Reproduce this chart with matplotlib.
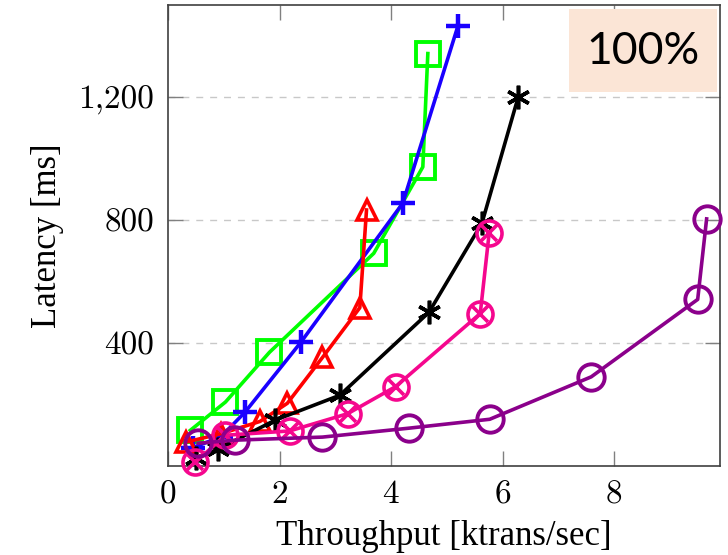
import matplotlib
matplotlib.use("Agg")
import matplotlib.pyplot as plt
from matplotlib.ticker import FuncFormatter
from matplotlib.patches import Rectangle

plt.rcParams['font.family'] = ['cmr10', 'DejaVu Serif']
plt.rcParams['axes.formatter.use_mathtext'] = True

# throughput [ktrans/sec], latency [ms]
green_x = [0.40, 1.03, 1.82, 3.69, 4.57, 4.66]
green_y = [116, 208, 370, 692, 973, 1342]

blue_x = [0.45, 0.95, 1.38, 2.38, 4.21, 5.20]
blue_y = [60, 95, 175, 402, 855, 1432]

red_x = [0.33, 0.95, 1.65, 2.14, 2.77, 3.44, 3.56]
red_y = [78, 105, 145, 204, 353, 515, 833]

black_x = [0.50, 0.90, 1.92, 3.08, 4.68, 5.63, 6.28]
black_y = [25, 55, 149, 230, 500, 790, 1200]

pink_x = [0.49, 1.03, 2.18, 3.22, 4.08, 5.60, 5.76]
pink_y = [12, 100, 114, 170, 258, 496, 758]

purple_x = [0.54, 1.20, 2.77, 4.32, 5.77, 7.59, 9.50, 9.66]
purple_y = [74, 84, 94, 123, 152, 290, 542, 804]

fig = plt.figure(figsize=(7.28, 5.55), dpi=100)
ax = fig.add_axes([0.2308, 0.1604, 0.7582, 0.8306])

lw = 2.6
ax.plot(green_x, green_y, color='#00FF00', lw=lw, marker='s', ms=17,
        mfc='none', mew=2.8, clip_on=False, zorder=3)
ax.plot(blue_x, blue_y, color='#1A00FF', lw=lw, marker='+', ms=17,
        mew=3.2, clip_on=False, zorder=3)
ax.plot(red_x, red_y, color='#FF0000', lw=lw, marker='^', ms=15,
        mfc='none', mew=2.6, clip_on=False, zorder=3)
ax.plot(black_x, black_y, color='black', lw=lw, marker=(6, 2, 0), ms=17,
        mew=2.6, clip_on=False, zorder=3)
ax.plot(pink_x, pink_y, color='#F5078E', lw=lw, marker='o', ms=18,
        mfc='none', mew=2.6, clip_on=False, zorder=3)
ax.plot(pink_x, pink_y, color='#F5078E', lw=0, marker='x', ms=11,
        mew=2.6, clip_on=False, zorder=3)
ax.plot(purple_x, purple_y, color='#8B008B', lw=lw, marker='o', ms=19,
        mfc='none', mew=2.8, clip_on=False, zorder=3)

ax.set_xlim(0, 9.9)
ax.set_ylim(0, 1500)
ax.set_xticks([0, 2, 4, 6, 8])
ax.set_yticks([400, 800, 1200])
ax.yaxis.set_major_formatter(FuncFormatter(lambda v, p: f"{int(v):,}"))
ax.grid(axis='y', color='#c8c8c8', ls=(0, (5, 5)), lw=1)
ax.tick_params(direction='in', length=11, width=1, color='#808080',
               top=True, right=True, labelsize=24, pad=10)
for s in ax.spines.values():
    s.set_color('#404040')
    s.set_linewidth(1.2)

ax.set_xlabel('Throughput [ktrans/sec]', fontsize=25, labelpad=8,
              family='Liberation Serif')
ax.set_ylabel('Latency [ms]', fontsize=25, labelpad=10,
              family='Liberation Serif')

# "100%" label box, top right
fig.patches.append(Rectangle((569 / 728, 1 - 92 / 555), 148 / 728, 83 / 555,
                             transform=fig.transFigure, fc='#FBE5D6',
                             ec='none', zorder=5))
fig.text(643 / 728, 1 - 52 / 555, '100%', fontsize=32, family='Lato',
         ha='center', va='center', zorder=6)

fig.savefig('out.png', dpi=100)
